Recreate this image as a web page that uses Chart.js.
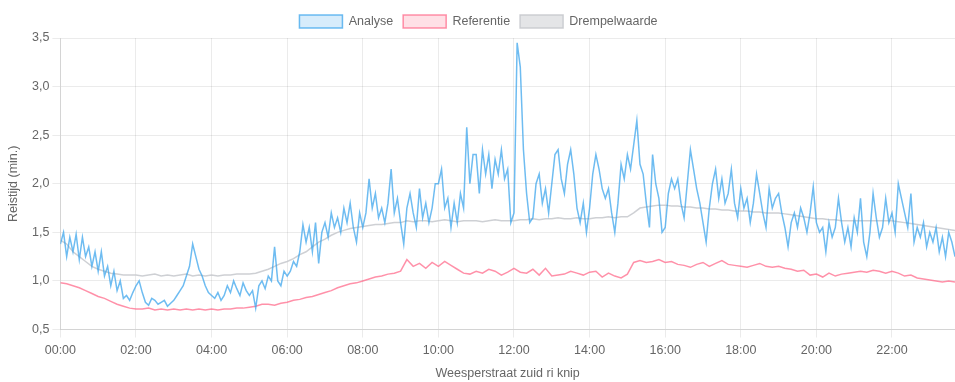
<!DOCTYPE html>
<html>
<head>
<meta charset="utf-8">
<script src="https://cdn.jsdelivr.net/npm/chart.js@4/dist/chart.umd.min.js"></script>
<style>
  html, body { margin: 0; padding: 0; background: #fff; }
  #c { display: block; }
</style>
</head>
<body>
<canvas id="c" width="955" height="382"></canvas>
<script>
// ---- data ----
const xTitle = "Weesperstraat zuid ri knip";
const yTitle = "Reistijd (min.)";
const seriesNames = ["Analyse", "Referentie", "Drempelwaarde"];
const xTickLabels = ["00:00","02:00","04:00","06:00","08:00","10:00","12:00","14:00","16:00","18:00","20:00","22:00"];
const yTickLabels = ["0,5","1,0","1,5","2,0","2,5","3,0","3,5"];

// Analyse: one value every 5 minutes from 00:00
const analyseStepMin = 5;
const analyse = [
  1.38,1.5,1.25,1.45,1.3,1.48,1.22,1.45,1.25,1.35,1.15,1.3,
  1.1,1.3,1.05,1.15,0.95,1.1,0.9,1.0,0.82,0.85,0.8,0.88,
  0.95,1.0,0.88,0.78,0.75,0.82,0.8,0.76,0.78,0.8,0.74,0.77,
  0.8,0.85,0.9,0.95,1.05,1.15,1.38,1.25,1.12,1.05,0.95,0.88,
  0.85,0.82,0.88,0.8,0.85,0.95,0.88,1.0,0.92,0.85,0.98,0.9,
  0.85,0.9,0.72,0.95,1.0,0.92,1.05,1.0,1.35,1.0,0.95,1.1,
  1.05,1.1,1.2,1.15,1.3,1.58,1.4,1.55,1.3,1.6,1.18,1.5,
  1.6,1.45,1.7,1.55,1.65,1.5,1.75,1.6,1.8,1.55,1.4,1.7,
  1.55,1.7,2.05,1.75,1.9,1.65,1.75,1.6,1.8,2.15,1.7,1.85,
  1.6,1.38,1.75,1.9,1.7,1.55,1.95,1.65,1.8,1.6,1.75,2.0,
  2.0,2.15,1.75,1.85,1.55,1.8,1.6,1.9,1.75,2.58,2.0,2.3,
  2.3,1.9,2.35,2.1,2.3,1.95,2.25,2.1,2.35,2.05,2.15,1.6,
  1.7,3.45,3.2,2.35,1.9,1.6,1.65,2.0,2.1,1.8,1.95,1.7,
  2.0,2.3,2.35,2.05,1.9,2.2,2.35,2.1,1.75,1.6,1.8,1.5,
  1.75,2.1,2.3,2.15,1.95,1.85,1.95,1.7,1.5,1.8,2.2,2.05,
  2.3,2.15,2.4,2.65,2.2,2.1,1.8,1.55,2.3,2.0,1.85,1.5,
  1.55,1.9,2.05,1.95,2.05,1.8,1.65,2.0,2.35,2.15,1.95,1.8,
  1.6,1.4,1.75,2.0,2.15,1.85,2.05,1.8,1.9,2.15,1.8,1.65,
  1.95,1.75,1.85,1.6,1.8,2.1,1.9,1.7,1.55,1.95,1.75,1.85,
  1.9,1.7,1.55,1.35,1.6,1.7,1.55,1.75,1.65,1.5,1.7,1.97,
  1.6,1.5,1.55,1.3,1.6,1.45,1.55,1.85,1.6,1.4,1.55,1.35,
  1.65,1.5,1.85,1.4,1.25,1.5,1.9,1.65,1.45,1.55,1.85,1.6,
  1.7,1.5,2.0,1.85,1.7,1.55,1.9,1.4,1.55,1.45,1.6,1.35,
  1.5,1.4,1.55,1.3,1.45,1.25,1.5,1.4,1.25
];

// Referentie and Drempelwaarde: one value every 10 minutes from 00:00
const refStepMin = 10;
const referentie = [
  0.98,0.97,0.95,0.93,0.9,0.87,
  0.84,0.82,0.79,0.76,0.74,0.72,
  0.71,0.71,0.72,0.7,0.71,0.7,
  0.71,0.7,0.71,0.7,0.71,0.7,
  0.71,0.7,0.71,0.71,0.72,0.72,
  0.73,0.74,0.76,0.76,0.75,0.77,
  0.78,0.8,0.81,0.83,0.84,0.86,
  0.88,0.9,0.93,0.95,0.97,0.98,
  1.0,1.02,1.04,1.05,1.07,1.08,
  1.1,1.22,1.15,1.18,1.13,1.19,
  1.15,1.2,1.16,1.12,1.08,1.07,
  1.1,1.08,1.12,1.1,1.06,1.09,
  1.13,1.09,1.08,1.12,1.06,1.13,
  1.05,1.06,1.07,1.1,1.08,1.06,
  1.09,1.1,1.04,1.08,1.05,1.03,
  1.07,1.19,1.21,1.19,1.2,1.22,
  1.19,1.2,1.17,1.16,1.14,1.17,
  1.19,1.15,1.18,1.21,1.17,1.16,
  1.15,1.14,1.16,1.18,1.15,1.14,
  1.15,1.13,1.12,1.1,1.11,1.06,
  1.07,1.04,1.08,1.05,1.07,1.08,
  1.09,1.1,1.09,1.11,1.1,1.08,
  1.1,1.08,1.05,1.06,1.03,1.02,
  1.01,1.0,0.99,1.0,0.99
];
const drempelwaarde = [
  1.42,1.38,1.3,1.25,1.2,1.15,
  1.12,1.1,1.08,1.07,1.06,1.06,
  1.06,1.05,1.06,1.07,1.05,1.06,
  1.05,1.06,1.07,1.05,1.06,1.05,
  1.06,1.05,1.06,1.06,1.07,1.07,
  1.07,1.08,1.1,1.12,1.15,1.18,
  1.2,1.23,1.27,1.3,1.35,1.4,
  1.43,1.47,1.5,1.52,1.54,1.55,
  1.56,1.57,1.58,1.58,1.59,1.6,
  1.6,1.62,1.61,1.62,1.62,1.61,
  1.62,1.63,1.62,1.61,1.62,1.62,
  1.62,1.61,1.62,1.63,1.62,1.62,
  1.62,1.63,1.63,1.64,1.63,1.64,
  1.64,1.65,1.64,1.64,1.65,1.64,
  1.64,1.65,1.65,1.66,1.65,1.66,
  1.66,1.7,1.75,1.76,1.77,1.78,
  1.78,1.77,1.77,1.76,1.76,1.75,
  1.75,1.74,1.74,1.73,1.73,1.72,
  1.72,1.72,1.71,1.71,1.7,1.7,
  1.7,1.69,1.68,1.67,1.66,1.65,
  1.64,1.64,1.63,1.63,1.62,1.62,
  1.62,1.62,1.62,1.62,1.62,1.62,
  1.62,1.61,1.6,1.59,1.58,1.57,
  1.56,1.55,1.54,1.53,1.52
];

const xMaxMin = 1420;

// ---- chart ----
const toPoints = (arr, step) => arr.map((v, i) => ({ x: i * step, y: v }));
const FONT = { family: "'Liberation Sans', Arial, Helvetica, sans-serif", size: 12.5 };

new Chart(document.getElementById('c'), {
  type: 'line',
  data: {
    datasets: [
      {
        label: seriesNames[0],
        data: toPoints(analyse, analyseStepMin),
        borderColor: 'rgba(54,162,235,0.72)',
        backgroundColor: 'rgba(54,162,235,0.2)',
        borderWidth: 1.5,
        pointRadius: 0,
        fill: false,
        tension: 0
      },
      {
        label: seriesNames[1],
        data: toPoints(referentie, refStepMin),
        borderColor: 'rgba(255,99,132,0.7)',
        backgroundColor: 'rgba(255,99,132,0.2)',
        borderWidth: 1.5,
        pointRadius: 0,
        fill: false,
        tension: 0
      },
      {
        label: seriesNames[2],
        data: toPoints(drempelwaarde, refStepMin),
        borderColor: 'rgba(201,203,207,0.9)',
        backgroundColor: 'rgba(201,203,207,0.5)',
        borderWidth: 1.5,
        pointRadius: 0,
        fill: false,
        tension: 0
      }
    ]
  },
  options: {
    responsive: false,
    animation: false,
    layout: { padding: { left: 2, right: 0, top: 5, bottom: 0 } },
    font: FONT,
    plugins: {
      legend: {
        position: 'top',
        labels: { font: FONT, color: '#666', boxWidth: 43, boxHeight: 13 }
      },
      tooltip: { enabled: false }
    },
    scales: {
      x: {
        type: 'linear',
        min: 0,
        max: xMaxMin,
        grid: { color: 'rgba(0,0,0,0.08)' },
        ticks: {
          stepSize: 120,
          includeBounds: false,
          autoSkip: false,
          maxRotation: 0,
          padding: 5.5,
          font: FONT,
          color: '#666',
          callback: (v) => xTickLabels[v / 120]
        },
        title: { display: true, text: xTitle, font: FONT, color: '#666', padding: { top: 3, bottom: 0.5 } }
      },
      y: {
        min: 0.5,
        max: 3.5,
        grid: { color: 'rgba(0,0,0,0.08)' },
        ticks: {
          stepSize: 0.5,
          font: FONT,
          color: '#666',
          callback: (v) => yTickLabels[Math.round((v - 0.5) / 0.5)]
        },
        title: { display: true, text: yTitle, font: FONT, color: '#666', padding: { top: 4, bottom: 8 } }
      }
    }
  }
});
</script>
</body>
</html>
